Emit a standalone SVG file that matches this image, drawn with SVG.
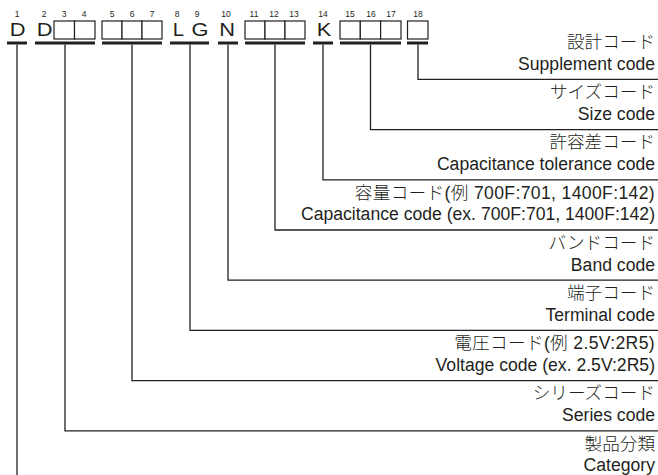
<svg xmlns="http://www.w3.org/2000/svg" width="658" height="475" viewBox="0 0 658 475">
<style>
.num{font-family:"Liberation Sans",Arial,sans-serif;font-size:8.5px;fill:#231f20;text-anchor:middle}
.ch{font-family:"Liberation Sans",Arial,sans-serif;font-size:18.5px;fill:#231f20;text-anchor:middle}
.box{fill:#fff;stroke:#231f20;stroke-width:1.2}
.bar{stroke:#231f20;stroke-width:3;fill:none}
.lbl{font-family:"Liberation Sans","Noto Sans CJK JP",sans-serif;font-size:17.6px;fill:#231f20;text-anchor:end}
.jp{font-weight:300}
.con{fill:none;stroke:#231f20;stroke-width:1.3}
</style>
<rect width="658" height="475" fill="#fff"/>

<g id="pos1">
<text class="num" x="17" y="17">1</text>
<text class="ch" transform="translate(17.5,36) scale(1.18,1)">D</text>
<line class="bar" x1="7" y1="43" x2="27" y2="43"/>
</g>
<g id="pos2-4">
<text class="num" x="44" y="17">2</text>
<text class="num" x="64" y="17">3</text>
<text class="num" x="84" y="17">4</text>
<text class="ch" transform="translate(44.5,36) scale(1.18,1)">D</text>
<rect class="box" x="54" y="21" width="20.5" height="18"/>
<rect class="box" x="74.5" y="21" width="20.5" height="18"/>
<line class="bar" x1="35" y1="43" x2="95" y2="43"/>
</g>
<g id="pos5-7">
<text class="num" x="112" y="17">5</text>
<text class="num" x="132" y="17">6</text>
<text class="num" x="152" y="17">7</text>
<rect class="box" x="102" y="21" width="20" height="18"/>
<rect class="box" x="122" y="21" width="20" height="18"/>
<rect class="box" x="142" y="21" width="20" height="18"/>
<line class="bar" x1="102" y1="43" x2="162" y2="43"/>
</g>
<g id="pos8-9">
<text class="num" x="177" y="17">8</text>
<text class="num" x="197" y="17">9</text>
<text class="ch" transform="translate(178.5,36) scale(1.1,1)">L</text>
<text class="ch" transform="translate(200,36) scale(1.18,1)">G</text>
<line class="bar" x1="170" y1="43" x2="209" y2="43"/>
</g>
<g id="pos10">
<text class="num" x="226" y="17">10</text>
<text class="ch" transform="translate(227,36) scale(1.18,1)">N</text>
<line class="bar" x1="218" y1="43" x2="238" y2="43"/>
</g>
<g id="pos11-13">
<text class="num" x="254" y="17">11</text>
<text class="num" x="274" y="17">12</text>
<text class="num" x="294" y="17">13</text>
<rect class="box" x="245" y="21" width="20" height="18"/>
<rect class="box" x="265" y="21" width="20" height="18"/>
<rect class="box" x="285" y="21" width="20" height="18"/>
<line class="bar" x1="245" y1="43" x2="305" y2="43"/>
</g>
<g id="pos14">
<text class="num" x="323" y="17">14</text>
<text class="ch" transform="translate(324,36) scale(1.18,1)">K</text>
<line class="bar" x1="313" y1="43" x2="333" y2="43"/>
</g>
<g id="pos15-17">
<text class="num" x="350" y="17">15</text>
<text class="num" x="371" y="17">16</text>
<text class="num" x="391" y="17">17</text>
<rect class="box" x="340" y="21" width="20.3" height="18"/>
<rect class="box" x="360.3" y="21" width="20.3" height="18"/>
<rect class="box" x="380.6" y="21" width="20.4" height="18"/>
<line class="bar" x1="340" y1="43" x2="401" y2="43"/>
</g>
<g id="pos18">
<text class="num" x="418" y="17">18</text>
<rect class="box" x="407.5" y="21" width="20.5" height="18"/>
<line class="bar" x1="407" y1="43" x2="428" y2="43"/>
</g>

<g id="connectors">
<polyline class="con" points="418,44.5 418,79.4 658,79.4"/>
<polyline class="con" points="370.5,44.5 370.5,129.6 658,129.6"/>
<polyline class="con" points="323,44.5 323,179.8 658,179.8"/>
<polyline class="con" points="275,44.5 275,230 658,230"/>
<polyline class="con" points="228,44.5 228,280.2 658,280.2"/>
<polyline class="con" points="190,44.5 190,330.4 658,330.4"/>
<polyline class="con" points="132,44.5 132,380.6 658,380.6"/>
<polyline class="con" points="65,44.5 65,430.8 658,430.8"/>
<line class="con" x1="17" y1="44.5" x2="17" y2="475"/>
</g>

<g id="lbl-supplement">
<text class="lbl jp" x="655" y="48">設計コード</text>
<text class="lbl" x="655" y="69.7">Supplement code</text>
</g>
<g id="lbl-size">
<text class="lbl jp" x="655" y="98.2">サイズコード</text>
<text class="lbl" x="655" y="119.9">Size code</text>
</g>
<g id="lbl-tolerance">
<text class="lbl jp" x="655" y="148.4">許容差コード</text>
<text class="lbl" x="655" y="170.1">Capacitance tolerance code</text>
</g>
<g id="lbl-capacitance">
<text class="lbl jp" x="655" y="198.6" letter-spacing="0.35">容量コード(例 700F:701, 1400F:142)</text>
<text class="lbl" x="655" y="220.3">Capacitance code (ex. 700F:701, 1400F:142)</text>
</g>
<g id="lbl-band">
<text class="lbl jp" x="655" y="248.8">バンドコード</text>
<text class="lbl" x="655" y="270.5">Band code</text>
</g>
<g id="lbl-terminal">
<text class="lbl jp" x="655" y="299">端子コード</text>
<text class="lbl" x="655" y="320.7">Terminal code</text>
</g>
<g id="lbl-voltage">
<text class="lbl jp" x="655" y="349.2" letter-spacing="0.35">電圧コード(例 2.5V:2R5)</text>
<text class="lbl" x="655" y="370.9">Voltage code (ex. 2.5V:2R5)</text>
</g>
<g id="lbl-series">
<text class="lbl jp" x="655" y="399.4">シリーズコード</text>
<text class="lbl" x="655" y="421.1">Series code</text>
</g>
<g id="lbl-category">
<text class="lbl jp" x="655" y="449.6">製品分類</text>
<text class="lbl" x="655" y="471.3">Category</text>
</g>
</svg>
